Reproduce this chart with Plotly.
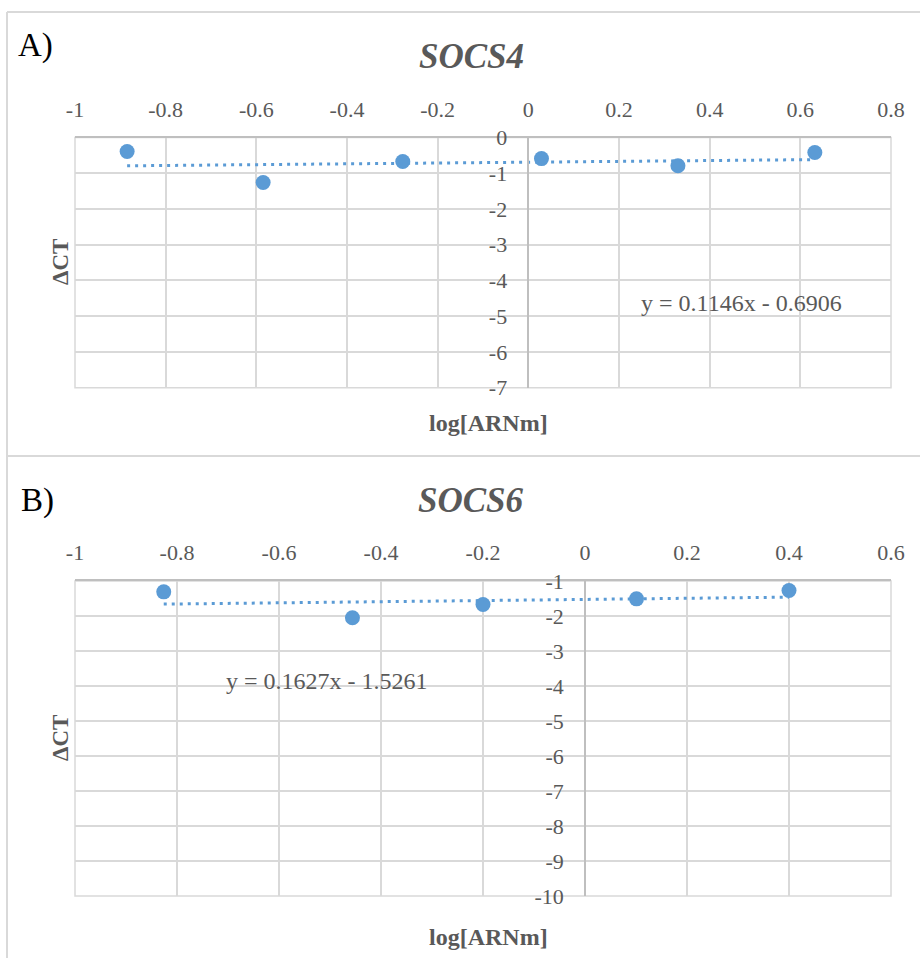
import numpy as np
import plotly.graph_objects as go

# ---------------- data ----------------
socs4_x = [-0.885, -0.585, -0.277, 0.029, 0.330, 0.632]
socs4_y = [-0.39, -1.26, -0.67, -0.59, -0.79, -0.42]
socs4_slope, socs4_intercept = 0.1146, -0.6906
socs4_eq = "y = 0.1146x - 0.6906"

socs6_x = [-0.826, -0.456, -0.200, 0.101, 0.400]
socs6_y = [-1.31, -2.05, -1.67, -1.51, -1.27]
socs6_slope, socs6_intercept = 0.1627, -1.5261
socs6_eq = "y = 0.1627x - 1.5261"

x4_ticks = [-1, -0.8, -0.6, -0.4, -0.2, 0, 0.2, 0.4, 0.6, 0.8]
x4_labels = ["-1", "-0.8", "-0.6", "-0.4", "-0.2", "0", "0.2", "0.4", "0.6", "0.8"]
y4_ticks = [0, -1, -2, -3, -4, -5, -6, -7]
y4_labels = ["0", "-1", "-2", "-3", "-4", "-5", "-6", "-7"]

x6_ticks = [-1, -0.8, -0.6, -0.4, -0.2, 0, 0.2, 0.4, 0.6]
x6_labels = ["-1", "-0.8", "-0.6", "-0.4", "-0.2", "0", "0.2", "0.4", "0.6"]
y6_ticks = [-1, -2, -3, -4, -5, -6, -7, -8, -9, -10]
y6_labels = ["-1", "-2", "-3", "-4", "-5", "-6", "-7", "-8", "-9", "-10"]

# ---------------- style ----------------
W, H = 920, 958
ML, MR = 75, 29
PW = W - ML - MR
BLUE = "#5B9BD5"
GRID = "#d9d9d9"
AXIS = "#bfbfbf"
TXT = "#595959"
FONT = "Liberation Serif"

def py(px):  # pixel y -> paper y
    return 1 - px / H

def pxp(px):  # pixel x -> paper x
    return (px - ML) / PW

top_dom = [py(387.7), py(137.5)]
bot_dom = [py(896), py(581)]

fig = go.Figure()

def add_panel(xs, ys, slope, intercept, xa, ya):
    fig.add_trace(go.Scatter(x=xs, y=ys, mode="markers", xaxis=xa, yaxis=ya,
                             marker=dict(color=BLUE, size=15, line=dict(width=0)),
                             showlegend=False, hoverinfo="x+y"))
    tx = np.array([min(xs), max(xs)])
    fig.add_trace(go.Scatter(x=tx, y=slope * tx + intercept, mode="lines", xaxis=xa, yaxis=ya,
                             line=dict(color=BLUE, width=3, dash="3px,5px"),
                             showlegend=False, hoverinfo="skip"))

add_panel(socs4_x, socs4_y, socs4_slope, socs4_intercept, "x", "y")
add_panel(socs6_x, socs6_y, socs6_slope, socs6_intercept, "x2", "y2")

tickfont = dict(family=FONT, size=22, color=TXT)

def xaxis_cfg(rng, tv, tt, anchor):
    return dict(range=rng, domain=[0, 1], anchor=anchor, side="top",
                tickvals=tv, ticktext=tt, ticks="", tickfont=tickfont,
                ticklabelstandoff=10, showgrid=True, gridcolor=GRID, gridwidth=1.5,
                zeroline=False, showline=True, linecolor=AXIS, linewidth=1.5,
                automargin=False, fixedrange=True)

def yaxis_cfg(rng, tv, tt, dom, pos):
    return dict(range=rng, domain=dom, anchor="free", position=pos,
                tickvals=tv, ticktext=tt, ticks="", tickfont=tickfont,
                ticklabelstandoff=16, showgrid=True, gridcolor=GRID, gridwidth=1.5,
                zeroline=False, showline=True, linecolor=AXIS, linewidth=1.5,
                automargin=False, fixedrange=True)

fig.update_layout(
    width=W, height=H,
    margin=dict(l=ML, r=MR, t=0, b=0, pad=0),
    paper_bgcolor="white", plot_bgcolor="white",
    xaxis=xaxis_cfg([-1, 0.8], x4_ticks, x4_labels, "y"),
    yaxis=yaxis_cfg([-7, 0], y4_ticks, y4_labels, top_dom, (0 - (-1)) / 1.8),
    xaxis2=xaxis_cfg([-1, 0.6], x6_ticks, x6_labels, "y2"),
    yaxis2=yaxis_cfg([-10, -1], y6_ticks, y6_labels, bot_dom, (0 - (-1)) / 1.6),
    showlegend=False,
)

shapes = []
# plot-area frames
for xr, yr in (("x domain", "y domain"), ("x2 domain", "y2 domain")):
    shapes.append(dict(type="rect", xref=xr, yref=yr, x0=0, x1=1, y0=0, y1=1,
                       line=dict(color=GRID, width=1.5), layer="below"))
# outer chart borders
shapes.append(dict(type="line", xref="paper", yref="paper", x0=pxp(7), x1=pxp(921),
                   y0=py(12), y1=py(12), line=dict(color=GRID, width=2)))
shapes.append(dict(type="line", xref="paper", yref="paper", x0=pxp(7), x1=pxp(921),
                   y0=py(456), y1=py(456), line=dict(color=GRID, width=2)))
shapes.append(dict(type="line", xref="paper", yref="paper", x0=pxp(7), x1=pxp(7),
                   y0=py(12), y1=py(960), line=dict(color=GRID, width=2)))
fig.update_layout(shapes=shapes)

ann = []
def A(x, y, text, size, color=TXT, bold=False, italic=False, angle=0, xref="paper", yref="paper"):
    t = text
    if bold:
        t = "<b>" + t + "</b>"
    if italic:
        t = "<i>" + t + "</i>"
    ann.append(dict(x=x, y=y, xref=xref, yref=yref, text=t, showarrow=False,
                    textangle=angle, xanchor="center", yanchor="middle",
                    font=dict(family=FONT, size=size, color=color)))

A(pxp(35), py(46), "A)", 33, color="black")
A(pxp(37), py(500), "B)", 33, color="black")
A(pxp(471), py(57), "SOCS4", 35, bold=True, italic=True)
A(pxp(471), py(500), "SOCS6", 35, bold=True, italic=True)
A(pxp(60), py(262), "ΔCT", 23, bold=True, angle=-90)
A(pxp(60), py(738), "ΔCT", 23, bold=True, angle=-90)
A(pxp(488), py(423), "log[ARNm]", 24, bold=True)
A(pxp(488), py(937), "log[ARNm]", 24, bold=True)
A(0.471, -4.62, socs4_eq, 24, xref="x", yref="y")
A(-0.506, -3.87, socs6_eq, 24, xref="x2", yref="y2")
fig.update_layout(annotations=ann)

fig.write_html("out.html", config={"displayModeBar": False},
               post_script="document.body.style.margin='0px';document.body.style.padding='0px';")
